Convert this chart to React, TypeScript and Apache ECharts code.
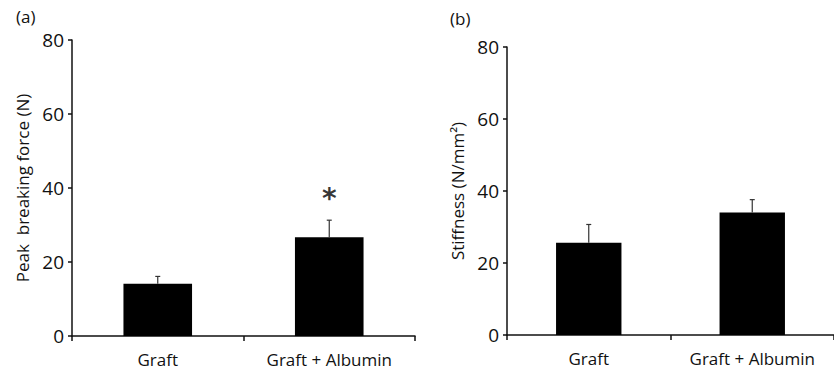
import React, { useEffect, useRef } from "react";
import * as echarts from "echarts";

const categories = ["Graft", "Graft + Albumin"];
const forceMeans = [14.1, 26.7];
const forceErrs = [2.0, 4.6];
const stiffMeans = [25.6, 34.0];
const stiffErrs = [5.1, 3.6];
const starValues = [null, 37.2];
const yTicks = [0, 20, 40, 60, 80];

const FONT = "'Open Sans', sans-serif";
const INK = "#111";

function errorSeries(idx: number, means: number[], errs: number[]) {
  return {
    type: "custom",
    xAxisIndex: idx,
    yAxisIndex: idx,
    silent: true,
    z: 5,
    data: means.map((m, i) => [i, m, m + errs[i]]),
    renderItem: (params: any, api: any) => {
      const x = api.value(0);
      const lo = api.coord([x, api.value(1)]);
      const hi = api.coord([x, api.value(2)]);
      const cap = 2.5;
      const style = { stroke: "#333", lineWidth: 1.2 };
      return {
        type: "group",
        children: [
          { type: "line", shape: { x1: lo[0], y1: lo[1], x2: hi[0], y2: hi[1] }, style },
          { type: "line", shape: { x1: hi[0] - cap, y1: hi[1], x2: hi[0] + cap, y2: hi[1] }, style },
        ],
      };
    },
  };
}

function xAxisDef(gridIndex: number) {
  return {
    type: "category",
    gridIndex,
    data: categories,
    axisLine: { lineStyle: { color: INK, width: 1.5 } },
    axisTick: { show: true, length: 5, lineStyle: { color: INK, width: 1.5 } },
    axisLabel: {
      color: INK,
      fontFamily: FONT,
      fontSize: 17,
      lineHeight: 17,
      margin: 15,
      interval: 0,
      hideOverlap: false,
      showMaxLabel: true,
      showMinLabel: true,
    },
  };
}

function yAxisDef(gridIndex: number, name: string) {
  return {
    type: "value",
    gridIndex,
    min: yTicks[0],
    max: yTicks[yTicks.length - 1],
    interval: 20,
    name,
    nameLocation: "middle",
    nameGap: 41,
    nameTextStyle: { color: INK, fontFamily: FONT, fontSize: 17 },
    splitLine: { show: false },
    axisLine: { show: true, lineStyle: { color: INK, width: 1.5 } },
    axisTick: { show: true, length: 4, lineStyle: { color: INK, width: 1.5 } },
    axisLabel: { color: INK, fontFamily: FONT, fontSize: 19, margin: 8 },
  };
}

export default function App() {
  const ref = useRef<HTMLDivElement>(null);
  useEffect(() => {
    if (!ref.current) return;
    const chart = echarts.init(ref.current, undefined, { renderer: "svg" });
    chart.setOption({
      animation: false,
      backgroundColor: "#fff",
      title: [
        { text: "(a)", left: 11, top: 3, textStyle: { color: INK, fontFamily: FONT, fontSize: 17, fontWeight: "normal" } },
        { text: "(b)", left: 445, top: 5, textStyle: { color: INK, fontFamily: FONT, fontSize: 17, fontWeight: "normal" } },
      ],
      grid: [
        { left: 72, top: 40, width: 343, height: 296 },
        { left: 507, top: 47, width: 336, height: 288 },
      ],
      xAxis: [xAxisDef(0), xAxisDef(1)],
      yAxis: [yAxisDef(0, "Peak  breaking force (N)"), yAxisDef(1, "Stiffness (N/mm²)")],
      series: [
        { type: "bar", xAxisIndex: 0, yAxisIndex: 0, data: forceMeans, barWidth: "40%", itemStyle: { color: "#000" } },
        { type: "bar", xAxisIndex: 1, yAxisIndex: 1, data: stiffMeans, barWidth: "40%", itemStyle: { color: "#000" } },
        errorSeries(0, forceMeans, forceErrs),
        errorSeries(1, stiffMeans, stiffErrs),
        {
          type: "scatter",
          xAxisIndex: 0,
          yAxisIndex: 0,
          symbolSize: 0,
          data: starValues.map((v, i) => (v === null ? null : [i, v])).filter((d) => d !== null),
          label: {
            show: true,
            position: "inside",
            formatter: "*",
            color: "#000",
            fontFamily: "'DejaVu Sans', sans-serif",
            fontWeight: "bold",
            fontSize: 28,
          },
        },
      ],
    });
    return () => chart.dispose();
  }, []);
  return (
    <div
      ref={ref}
      style={{ position: "absolute", left: 0, top: 0, width: 834, height: 370 }}
    />
  );
}
